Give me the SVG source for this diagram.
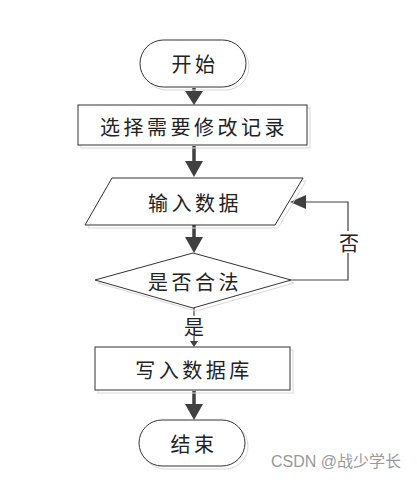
<svg xmlns="http://www.w3.org/2000/svg" width="417" height="483" viewBox="0 0 417 483">
<defs>
<style>
.sh{fill:none;stroke:#d8d8d8;stroke-width:1}
.nd{fill:#fff;stroke:#333;stroke-width:1}
.t{font-family:"Noto Sans CJK SC","Noto Sans",sans-serif;font-size:20px;fill:#222;text-anchor:middle;dominant-baseline:central;letter-spacing:3.5px}
.a{stroke:#404040;stroke-width:3.5;fill:none}
.ah{fill:#404040}
.fb{stroke:#404040;stroke-width:1.2;fill:none}
</style>
</defs>
<rect width="417" height="483" fill="#fff"/>
<g id="connectors">
<line class="a" x1="194" y1="88" x2="194" y2="93"/><polygon class="ah" points="185,91 203,91 194,105"/>
<line class="a" x1="194" y1="146" x2="194" y2="163"/><polygon class="ah" points="185,161 203,161 194,177"/>
<line class="a" x1="194" y1="225" x2="194" y2="239"/><polygon class="ah" points="185,237 203,237 194,253"/>
<line class="fb" x1="194" y1="308" x2="194" y2="342"/><polygon class="ah" points="190,341 198,341 194,347"/>
<line class="a" x1="194" y1="391" x2="194" y2="406"/><polygon class="ah" points="185,404 203,404 194,420"/>
<polyline class="fb" points="291,280 348,280 348,202 305,202"/><polygon class="ah" points="290,202 306,195 306,209"/>
<rect x="337" y="231" width="22" height="22" fill="#fff"/>
<text class="t" x="349" y="242" style="letter-spacing:0">否</text>
<rect x="184" y="316" width="20" height="20" fill="#fff"/>
<text class="t" x="194" y="326" style="letter-spacing:0">是</text>
</g>
<g id="start">
<rect class="sh" x="143" y="43" width="106" height="47" rx="23.5"/>
<rect class="nd" x="140" y="40" width="106" height="47" rx="23.5"/>
<text class="t" x="195" y="63">开始</text>
</g>
<g id="select">
<rect class="sh" x="81" y="108" width="229" height="40"/>
<rect class="nd" x="78" y="105" width="229" height="40"/>
<text class="t" x="194" y="126">选择需要修改记录</text>
</g>
<g id="input">
<polygon class="sh" points="115,181 306,181 278,228 88,228"/>
<polygon class="nd" points="112,178 303,178 275,225 85,225"/>
<text class="t" x="195" y="202">输入数据</text>
</g>
<g id="check">
<polygon class="sh" points="196,256 294,283 196,311 98,283"/>
<polygon class="nd" points="193,253 291,280 193,308 95,280"/>
<text class="t" x="195" y="281">是否合法</text>
</g>
<g id="write">
<rect class="sh" x="98" y="350" width="195" height="43"/>
<rect class="nd" x="95" y="347" width="195" height="43"/>
<text class="t" x="194" y="369">写入数据库</text>
</g>
<g id="end">
<rect class="sh" x="142" y="423" width="106" height="46" rx="23"/>
<rect class="nd" x="139" y="420" width="106" height="46" rx="23"/>
<text class="t" x="194" y="443">结束</text>
</g>
<text x="401" y="467" font-family="'Liberation Sans','Noto Sans CJK SC',sans-serif" font-size="16" fill="#999" text-anchor="end">CSDN @战少学长</text>
</svg>
